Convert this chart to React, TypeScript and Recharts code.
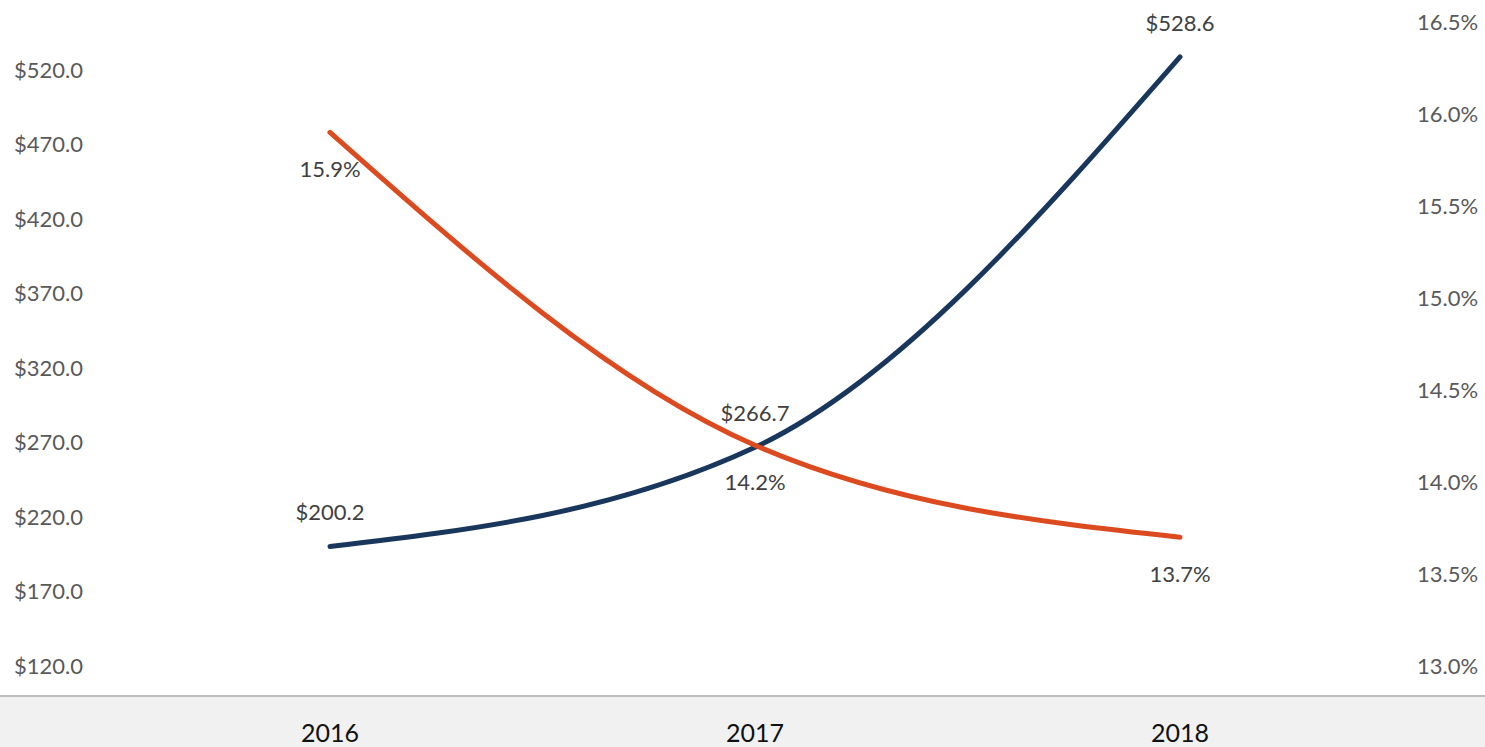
import React from 'react'
import { LineChart, Line, XAxis, YAxis, LabelList } from 'recharts'

const years = ['2016', '2017', '2018']
const revenue = [200.2, 266.7, 528.6]
const margin = [15.9, 14.2, 13.7]
const leftTicks = [120, 170, 220, 270, 320, 370, 420, 470, 520]
const rightTicks = [13.0, 13.5, 14.0, 14.5, 15.0, 15.5, 16.0, 16.5]

const data = years.map((year, i) => ({ year, revenue: revenue[i], margin: margin[i] }))

const FONT = 'Lato, "Open Sans", sans-serif'
const NAVY = '#19375c'
const ORANGE = '#dc4a1f'

const YearTick = ({ x, y, payload }: any) => (
  <text x={x} y={y} dy={76} textAnchor="middle" fill="#111" fontSize={25} fontFamily={FONT}>
    {payload.value}
  </text>
)

export default function App() {
  return (
    <div style={{ position: 'relative', width: 1485, height: 747, background: '#fff', overflow: 'hidden' }}>
      <style>{`body{margin:0}`}</style>
      <div
        style={{
          position: 'absolute',
          left: 0,
          top: 695,
          width: 1485,
          height: 52,
          background: '#f1f1f1',
          borderTop: '2px solid #bdbdbd',
          boxSizing: 'border-box'
        }}
      />
      <div style={{ position: 'absolute', left: 0, top: 0 }}>
        <LineChart width={1485} height={747} data={data} margin={{ top: 22, right: 0, left: 0, bottom: 0 }}>
          <XAxis
            dataKey="year"
            height={81}
            axisLine={false}
            tickLine={false}
            tickSize={0}
            tickMargin={0}
            padding={{ left: 240, right: 220 }}
            tick={<YearTick />}
          />
          <YAxis
            yAxisId="left"
            orientation="left"
            width={90}
            domain={[120, 552]}
            ticks={leftTicks}
            axisLine={false}
            tickLine={false}
            tickSize={0}
            tickMargin={7}
            tickFormatter={(v: number) => `$${v.toFixed(1)}`}
            tick={{ fill: '#595959', fontSize: 22, fontFamily: FONT }}
          />
          <YAxis
            yAxisId="right"
            orientation="right"
            width={85}
            domain={[13, 16.5]}
            ticks={rightTicks}
            axisLine={false}
            tickLine={false}
            tickSize={0}
            tickMargin={17}
            tickFormatter={(v: number) => `${v.toFixed(1)}%`}
            tick={{ fill: '#595959', fontSize: 22, fontFamily: FONT }}
          />
          <Line
            yAxisId="left"
            type="monotone"
            dataKey="revenue"
            stroke={NAVY}
            strokeWidth={5}
            strokeLinecap="round"
            dot={false}
            isAnimationActive={false}
          >
            <LabelList
              dataKey="revenue"
              position="top"
              offset={26}
              fill="#404040"
              fontSize={22}
              fontFamily={FONT}
              formatter={(v: any) => `$${Number(v).toFixed(1)}`}
            />
          </Line>
          <Line
            yAxisId="right"
            type="monotone"
            dataKey="margin"
            stroke={ORANGE}
            strokeWidth={5}
            strokeLinecap="round"
            dot={false}
            isAnimationActive={false}
          >
            <LabelList
              dataKey="margin"
              position="bottom"
              offset={29}
              fill="#404040"
              fontSize={22}
              fontFamily={FONT}
              formatter={(v: any) => `${Number(v).toFixed(1)}%`}
            />
          </Line>
        </LineChart>
      </div>
    </div>
  )
}
